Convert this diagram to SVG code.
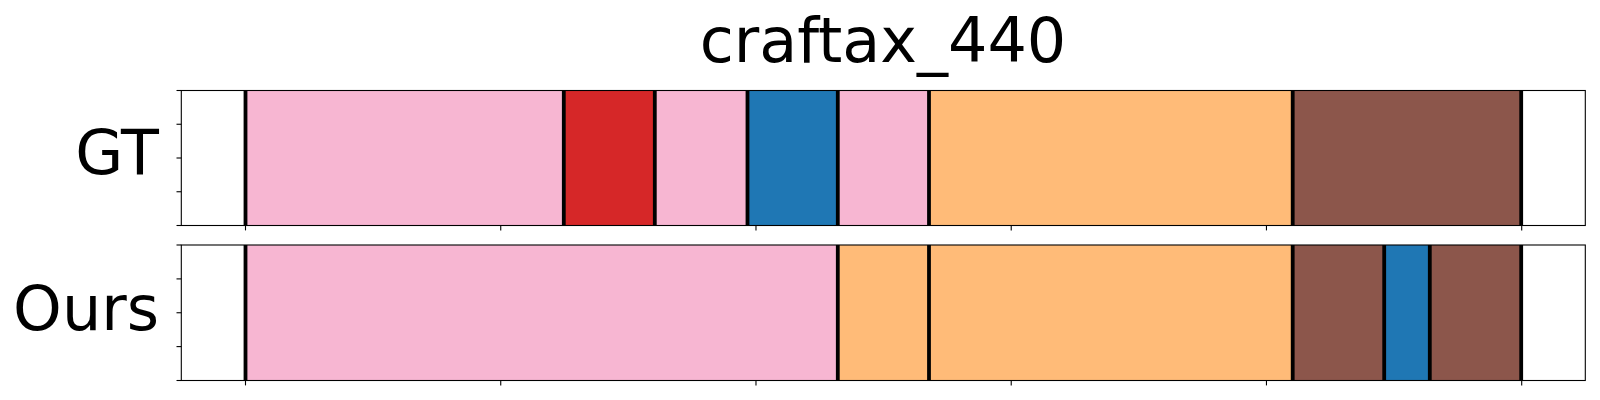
<svg xmlns="http://www.w3.org/2000/svg" width="1600" height="400" viewBox="0 0 1600 400">
<style>
.t{font-family:"DejaVu Sans","Liberation Sans",sans-serif;font-size:62px;fill:#000}
.frame{fill:none;stroke:#000;stroke-width:1.1}
.tick{stroke:#000;stroke-width:1.1}
.sep{stroke:#000;stroke-width:3.8}
.pk{fill:#f7b6d2}.rd{fill:#d62728}.bl{fill:#1f77b4}.or{fill:#ffbb78}.br{fill:#8c564b}
</style>
<rect width="1600" height="400" fill="#fff"/>
<text class="t" x="883" y="61.7" text-anchor="middle">craftax_440</text>

<g id="gt">
  <text class="t" x="159" y="174" text-anchor="end">GT</text>
  <rect class="pk" x="245.5" y="90.5" width="318.3" height="135"/>
  <rect class="rd" x="563.8" y="90.5" width="91" height="135"/>
  <rect class="pk" x="654.8" y="90.5" width="92.7" height="135"/>
  <rect class="bl" x="747.5" y="90.5" width="90.3" height="135"/>
  <rect class="pk" x="837.8" y="90.5" width="91.2" height="135"/>
  <rect class="or" x="929" y="90.5" width="363.7" height="135"/>
  <rect class="br" x="1292.7" y="90.5" width="228.5" height="135"/>
  <g class="sep">
    <line x1="245.5" y1="90.5" x2="245.5" y2="225.5"/>
    <line x1="563.8" y1="90.5" x2="563.8" y2="225.5"/>
    <line x1="654.8" y1="90.5" x2="654.8" y2="225.5"/>
    <line x1="747.5" y1="90.5" x2="747.5" y2="225.5"/>
    <line x1="837.8" y1="90.5" x2="837.8" y2="225.5"/>
    <line x1="929" y1="90.5" x2="929" y2="225.5"/>
    <line x1="1292.7" y1="90.5" x2="1292.7" y2="225.5"/>
    <line x1="1521.2" y1="90.5" x2="1521.2" y2="225.5"/>
  </g>
  <rect class="frame" x="181.3" y="90.5" width="1404" height="135"/>
  <g class="tick">
    <line x1="176.5" y1="90.5" x2="181.3" y2="90.5"/>
    <line x1="176.5" y1="124.25" x2="181.3" y2="124.25"/>
    <line x1="176.5" y1="158" x2="181.3" y2="158"/>
    <line x1="176.5" y1="191.75" x2="181.3" y2="191.75"/>
    <line x1="176.5" y1="225.5" x2="181.3" y2="225.5"/>
    <line x1="245.5" y1="225.5" x2="245.5" y2="230.4"/>
    <line x1="500.74" y1="225.5" x2="500.74" y2="230.4"/>
    <line x1="755.98" y1="225.5" x2="755.98" y2="230.4"/>
    <line x1="1011.22" y1="225.5" x2="1011.22" y2="230.4"/>
    <line x1="1266.46" y1="225.5" x2="1266.46" y2="230.4"/>
    <line x1="1521.7" y1="225.5" x2="1521.7" y2="230.4"/>
  </g>
</g>

<g id="ours">
  <text class="t" x="159" y="330" text-anchor="end">Ours</text>
  <rect class="pk" x="245.5" y="245" width="592.3" height="135.5"/>
  <rect class="or" x="837.8" y="245" width="91.2" height="135.5"/>
  <rect class="or" x="929" y="245" width="363.7" height="135.5"/>
  <rect class="br" x="1292.7" y="245" width="91.5" height="135.5"/>
  <rect class="bl" x="1384.2" y="245" width="45.6" height="135.5"/>
  <rect class="br" x="1429.8" y="245" width="91.4" height="135.5"/>
  <g class="sep">
    <line x1="245.5" y1="245" x2="245.5" y2="380.5"/>
    <line x1="837.8" y1="245" x2="837.8" y2="380.5"/>
    <line x1="929" y1="245" x2="929" y2="380.5"/>
    <line x1="1292.7" y1="245" x2="1292.7" y2="380.5"/>
    <line x1="1384.2" y1="245" x2="1384.2" y2="380.5"/>
    <line x1="1429.8" y1="245" x2="1429.8" y2="380.5"/>
    <line x1="1521.2" y1="245" x2="1521.2" y2="380.5"/>
  </g>
  <rect class="frame" x="181.3" y="245" width="1404" height="135.5"/>
  <g class="tick">
    <line x1="176.5" y1="245" x2="181.3" y2="245"/>
    <line x1="176.5" y1="278.9" x2="181.3" y2="278.9"/>
    <line x1="176.5" y1="312.75" x2="181.3" y2="312.75"/>
    <line x1="176.5" y1="346.6" x2="181.3" y2="346.6"/>
    <line x1="176.5" y1="380.5" x2="181.3" y2="380.5"/>
    <line x1="245.5" y1="380.5" x2="245.5" y2="385.4"/>
    <line x1="500.74" y1="380.5" x2="500.74" y2="385.4"/>
    <line x1="755.98" y1="380.5" x2="755.98" y2="385.4"/>
    <line x1="1011.22" y1="380.5" x2="1011.22" y2="385.4"/>
    <line x1="1266.46" y1="380.5" x2="1266.46" y2="385.4"/>
    <line x1="1521.7" y1="380.5" x2="1521.7" y2="385.4"/>
  </g>
</g>
</svg>
